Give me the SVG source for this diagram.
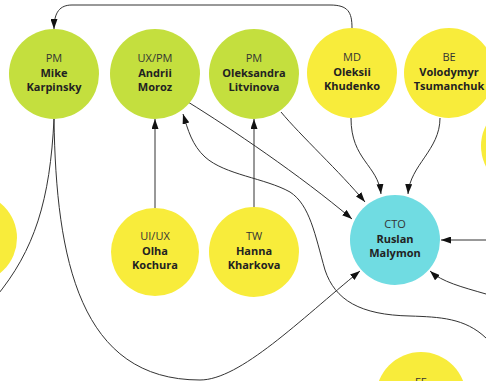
<svg xmlns="http://www.w3.org/2000/svg" width="486" height="381" viewBox="0 0 486 381">
  <style>
    .pm { fill: #c4df3e; }
    .dev { fill: #f8ec3b; }
    .cto { fill: #70dce2; }
    .role { font-family: "Open Sans", "Liberation Sans", sans-serif; font-size: 11px; fill: #333; text-anchor: middle; }
    .name { font-family: "Open Sans", "Liberation Sans", sans-serif; font-size: 11px; font-weight: bold; fill: #222; text-anchor: middle; }
    .link { fill: none; stroke: #333; stroke-width: 1; }
    .arrow { marker-end: url(#head); }
  </style>
  <defs>
    <marker id="head" markerUnits="userSpaceOnUse" markerWidth="10" markerHeight="7" refX="10" refY="3.5" orient="auto">
      <path d="M0,0 L10,3.5 L0,7 z" fill="#111"/>
    </marker>
  </defs>

  <g id="connectors">
    <!-- Khudenko over the top to Karpinsky -->
    <path class="link arrow" d="M352,28 C352,12 348,5 330,5 L72,5 C60,5 54,12 54,29"/>
    <!-- Karpinsky down to the left -->
    <path class="link" d="M54,119 C50,200 35,250 -5,298"/>
    <!-- Karpinsky round the bottom to Malymon -->
    <path class="link arrow" d="M54,119 C56,260 80,380 200,380 C240,380 300,320 360,271"/>
    <!-- Kochura to Moroz -->
    <path class="link arrow" d="M155,208 L155,119"/>
    <!-- Kharkova to Litvinova -->
    <path class="link arrow" d="M254,208 L254,119"/>
    <!-- Moroz to Malymon -->
    <path class="link arrow" d="M188,102 C230,128 300,175 352,219"/>
    <!-- Litvinova to Malymon -->
    <path class="link arrow" d="M281,112 C300,135 340,172 365,202"/>
    <!-- Khudenko to Malymon -->
    <path class="link arrow" d="M351,118 C351,160 378,165 381,194"/>
    <!-- Tsumanchuk to Malymon -->
    <path class="link arrow" d="M440,118 C440,150 410,165 408,194"/>
    <!-- right side into Malymon -->
    <path class="link arrow" d="M486,240 L441,240"/>
    <path class="link arrow" d="M486,294 C462,287 442,282 430,271"/>
    <!-- lower right back up to Moroz -->
    <path class="link arrow" d="M486,338 C465,318 440,317 410,316 C360,315 335,300 325,270 C315,235 310,205 290,192 C265,178 225,175 205,157 C192,145 188,130 183,114"/>
  </g>

  <g id="node-karpinsky">
    <circle class="pm" cx="54" cy="74" r="45"/>
    <text class="role" x="54" y="62">PM</text>
    <text class="name" x="54" y="76.5">Mike</text>
    <text class="name" x="54" y="91">Karpinsky</text>
  </g>
  <g id="node-moroz">
    <circle class="pm" cx="155" cy="74" r="45"/>
    <text class="role" x="155" y="62">UX/PM</text>
    <text class="name" x="155" y="76.5">Andrii</text>
    <text class="name" x="155" y="91">Moroz</text>
  </g>
  <g id="node-litvinova">
    <circle class="pm" cx="254" cy="74" r="45"/>
    <text class="role" x="254" y="62">PM</text>
    <text class="name" x="254" y="76.5">Oleksandra</text>
    <text class="name" x="254" y="91">Litvinova</text>
  </g>
  <g id="node-khudenko">
    <circle class="dev" cx="352" cy="73" r="45"/>
    <text class="role" x="352" y="61">MD</text>
    <text class="name" x="352" y="75.5">Oleksii</text>
    <text class="name" x="352" y="90">Khudenko</text>
  </g>
  <g id="node-tsumanchuk">
    <circle class="dev" cx="449" cy="73" r="45"/>
    <text class="role" x="449" y="61">BE</text>
    <text class="name" x="449" y="75.5">Volodymyr</text>
    <text class="name" x="449" y="90">Tsumanchuk</text>
  </g>
  <g id="node-right">
    <circle class="dev" cx="526" cy="146" r="45"/>
  </g>
  <g id="node-left">
    <circle class="dev" cx="-28" cy="238" r="45"/>
  </g>
  <g id="node-kochura">
    <circle class="dev" cx="155" cy="252" r="44"/>
    <text class="role" x="155" y="240">UI/UX</text>
    <text class="name" x="155" y="254.5">Olha</text>
    <text class="name" x="155" y="269">Kochura</text>
  </g>
  <g id="node-kharkova">
    <circle class="dev" cx="254" cy="252" r="45"/>
    <text class="role" x="254" y="240">TW</text>
    <text class="name" x="254" y="254.5">Hanna</text>
    <text class="name" x="254" y="269">Kharkova</text>
  </g>
  <g id="node-malymon">
    <circle class="cto" cx="395" cy="240" r="45"/>
    <text class="role" x="395" y="228">CTO</text>
    <text class="name" x="395" y="242.5">Ruslan</text>
    <text class="name" x="395" y="257">Malymon</text>
  </g>
  <g id="node-fe">
    <circle class="dev" cx="421" cy="397" r="45"/>
    <text class="role" x="421" y="386">FE</text>
  </g>
</svg>
